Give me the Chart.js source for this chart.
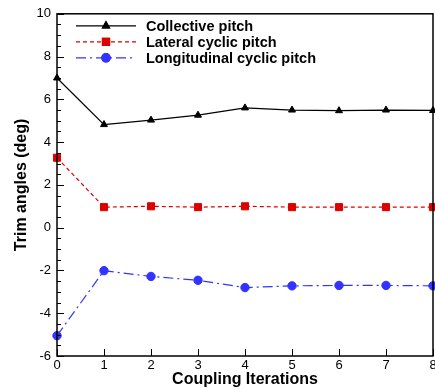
<!DOCTYPE html>
<html>
<head>
<meta charset="utf-8">
<script src="https://cdn.jsdelivr.net/npm/chart.js@4/dist/chart.umd.min.js"></script>
<style>
  html, body { margin: 0; padding: 0; background: #fff; overflow: hidden; width: 435px; height: 389px; }
  #wrap { width: 445px; height: 389px; }
</style>
</head>
<body>
<div id="wrap"><canvas id="trimChart" width="445" height="389"></canvas></div>
<script>
// coupling iterations
var iterations = [0, 1, 2, 3, 4, 5, 6, 7, 8];
// trim angles (deg)
var collective = [7.0, 4.82, 5.03, 5.26, 5.6, 5.5, 5.47, 5.5, 5.48];
var lateral = [3.27, 0.96, 1.0, 0.96, 1.0, 0.96, 0.96, 0.96, 0.96];
var longitudinal = [-5.05, -2.01, -2.28, -2.46, -2.8, -2.72, -2.7, -2.7, -2.72];
var yTicks = [-6, -4, -2, 0, 2, 4, 6, 8, 10];

var FONT = "'Liberation Sans', Arial, sans-serif";
var RED = '#dd0000';
var BLUE = '#3333ff';

function toXY(vals) {
    return vals.map(function (v, i) { return { x: iterations[i], y: v }; });
}

// frame + inward tick marks
var framePlugin = {
    id: 'frame',
    afterDraw: function (chart) {
        var ctx = chart.ctx, a = chart.chartArea;
        var xs = chart.scales.x, ys = chart.scales.y;
        ctx.save();
        ctx.strokeStyle = '#000';
        ctx.lineWidth = 1.5;
        ctx.strokeRect(a.left, a.top, a.right - a.left, a.bottom - a.top);
        ctx.lineWidth = 1;
        ctx.beginPath();
        for (var v = -6; v <= 10; v += 0.5) {
            var py = Math.round(ys.getPixelForValue(v)) + 0.5;
            var len = (v % 2 === 0) ? 7 : 4;
            ctx.moveTo(a.left, py);
            ctx.lineTo(a.left + len, py);
        }
        iterations.forEach(function (it) {
            var px = Math.round(xs.getPixelForValue(it)) + 0.5;
            ctx.moveTo(px, a.bottom);
            ctx.lineTo(px, a.bottom - 7);
        });
        ctx.stroke();
        ctx.restore();
    }
};

// legend drawn inside the plot, top-left
var legendPlugin = {
    id: 'innerLegend',
    afterDraw: function (chart) {
        var ctx = chart.ctx, a = chart.chartArea;
        var x0 = a.left + 19, x1 = a.left + 79, xm = (x0 + x1) / 2, xt = a.left + 89;
        ctx.save();
        chart.data.datasets.forEach(function (ds, i) {
            var y = a.top + 12 + i * 16;
            ctx.strokeStyle = ds.borderColor;
            ctx.lineWidth = ds.borderWidth;
            ctx.setLineDash(ds.borderDash || []);
            ctx.beginPath();
            ctx.moveTo(x0, y);
            ctx.lineTo(x1, y);
            ctx.stroke();
            ctx.setLineDash([]);
            Chart.helpers.drawPoint(ctx, {
                pointStyle: ds.pointStyle,
                radius: ds.pointRadius,
                rotation: 0,
                borderWidth: 1
            }, xm, y);
            ctx.fillStyle = ds.pointBackgroundColor;
            ctx.strokeStyle = ds.pointBorderColor;
            ctx.fill();
            ctx.stroke();
            ctx.fillStyle = '#000';
            ctx.font = 'bold 14.5px ' + FONT;
            ctx.textBaseline = 'middle';
            ctx.fillText(ds.label, xt, y + 1);
        });
        ctx.restore();
    }
};

new Chart(document.getElementById('trimChart'), {
    type: 'line',
    data: {
        datasets: [{
            label: 'Collective pitch',
            data: toXY(collective),
            borderColor: '#000',
            borderWidth: 1.2,
            pointStyle: 'triangle',
            pointRadius: 4,
            pointBackgroundColor: '#000',
            pointBorderColor: '#000',
            pointBorderWidth: 1
        }, {
            label: 'Lateral cyclic pitch',
            data: toXY(lateral),
            borderColor: RED,
            borderWidth: 1.2,
            borderDash: [4, 3],
            pointStyle: 'rect',
            pointRadius: 5,
            pointBackgroundColor: RED,
            pointBorderColor: RED,
            pointBorderWidth: 1
        }, {
            label: 'Longitudinal cyclic pitch',
            data: toXY(longitudinal),
            borderColor: BLUE,
            borderWidth: 1.2,
            borderDash: [10, 4, 2, 4],
            pointStyle: 'circle',
            pointRadius: 4.2,
            pointBackgroundColor: BLUE,
            pointBorderColor: BLUE,
            pointBorderWidth: 1
        }]
    },
    options: {
        responsive: false,
        animation: false,
        clip: false,
        layout: { padding: { top: 13, right: 12, left: 0, bottom: 0 } },
        plugins: {
            legend: { display: false },
            tooltip: { enabled: false }
        },
        scales: {
            x: {
                type: 'linear',
                min: 0,
                max: 8,
                grid: { display: false, drawTicks: false },
                border: { display: false },
                afterFit: function (s) { s.height = 33; },
                afterBuildTicks: function (s) {
                    s.ticks = iterations.map(function (v) { return { value: v }; });
                },
                ticks: {
                    color: '#000',
                    padding: 2,
                    maxRotation: 0,
                    font: { family: FONT, size: 13 }
                },
                title: {
                    display: true,
                    text: 'Coupling Iterations',
                    color: '#000',
                    padding: { top: 0, bottom: 0 },
                    font: { family: FONT, size: 16, weight: 'bold' }
                }
            },
            y: {
                min: -6,
                max: 10,
                grid: { display: false, drawTicks: false },
                border: { display: false },
                afterFit: function (s) { s.width = 57; },
                afterBuildTicks: function (s) {
                    s.ticks = yTicks.map(function (v) { return { value: v }; });
                },
                ticks: {
                    color: '#000',
                    padding: 6,
                    font: { family: FONT, size: 13 }
                },
                title: {
                    display: true,
                    text: 'Trim angles (deg)',
                    color: '#000',
                    padding: { top: 12, bottom: 0 },
                    font: { family: FONT, size: 16, weight: 'bold' }
                }
            }
        }
    },
    plugins: [framePlugin, legendPlugin]
});
</script>
</body>
</html>
